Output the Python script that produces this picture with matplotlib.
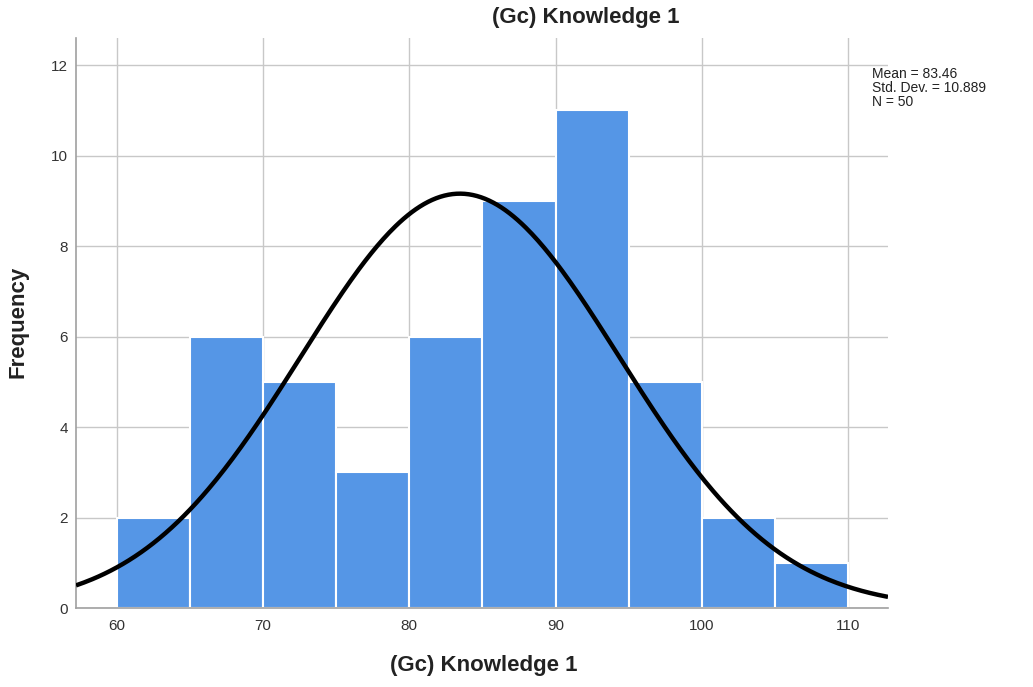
import numpy as np
import matplotlib
matplotlib.use("Agg")
import matplotlib.pyplot as plt

bin_edges = [60, 65, 70, 75, 80, 85, 90, 95, 100, 105, 110]
counts = [2, 6, 5, 3, 6, 9, 11, 5, 2, 1]
mean = 83.46
std = 10.889
n = 50
x_ticks = [60, 70, 80, 90, 100, 110]
y_ticks = [0, 2, 4, 6, 8, 10, 12]
title = "(Gc) Knowledge 1"
xlabel = "(Gc) Knowledge 1"
ylabel = "Frequency"

plt.rcParams['font.family'] = ['Liberation Sans', 'DejaVu Sans']

fig = plt.figure(figsize=(10.33, 6.87), dpi=100)
W, H = 1033, 687
ax = fig.add_axes([76 / W, 1 - 608 / H, (888 - 76) / W, (608 - 38) / H])

lefts = np.array(bin_edges[:-1])
widths = np.diff(bin_edges)
ax.bar(lefts, counts, width=widths, align='edge', color='#5596E6',
       edgecolor='white', linewidth=1.5, zorder=2)

xlim = (57.2, 112.74)
xs = np.linspace(xlim[0], xlim[1], 400)
bw = widths[0]
ys = n * bw * np.exp(-0.5 * ((xs - mean) / std) ** 2) / (std * np.sqrt(2 * np.pi))
ax.plot(xs, ys, color='black', linewidth=3.2, zorder=3, solid_capstyle='butt')

ax.set_xlim(*xlim)
ax.set_ylim(0, 12.6)
ax.set_xticks(x_ticks)
ax.set_yticks(y_ticks)
ax.grid(True, color='#C8C8C8', linewidth=1, zorder=0)
ax.set_axisbelow(True)
for s in ['top', 'right']:
    ax.spines[s].set_visible(False)
for s in ['left', 'bottom']:
    ax.spines[s].set_color('#A0A0A0')
    ax.spines[s].set_linewidth(1.2)
ax.tick_params(length=0, labelsize=11, colors='#333333')
ax.tick_params(axis='x', pad=8)
ax.tick_params(axis='y', pad=6)

fig.text(484 / W, 1 - 665 / H, xlabel, fontsize=16, fontweight='bold',
         ha='center', va='center', color='#222222')
fig.text(18 / W, 1 - 322 / H, ylabel, fontsize=16, fontweight='bold',
         ha='center', va='center', rotation=90, color='#222222')
fig.text(586 / W, 1 - 18 / H, title, fontsize=16, fontweight='bold',
         ha='center', va='center', color='#222222')
fig.text(872 / W, 1 - 67 / H,
         f"Mean = {mean:.2f}\nStd. Dev. = {std:.3f}\nN = {n}",
         fontsize=10, ha='left', va='top', linespacing=1.0, color='#222222')

fig.savefig("out.png", dpi=100)
